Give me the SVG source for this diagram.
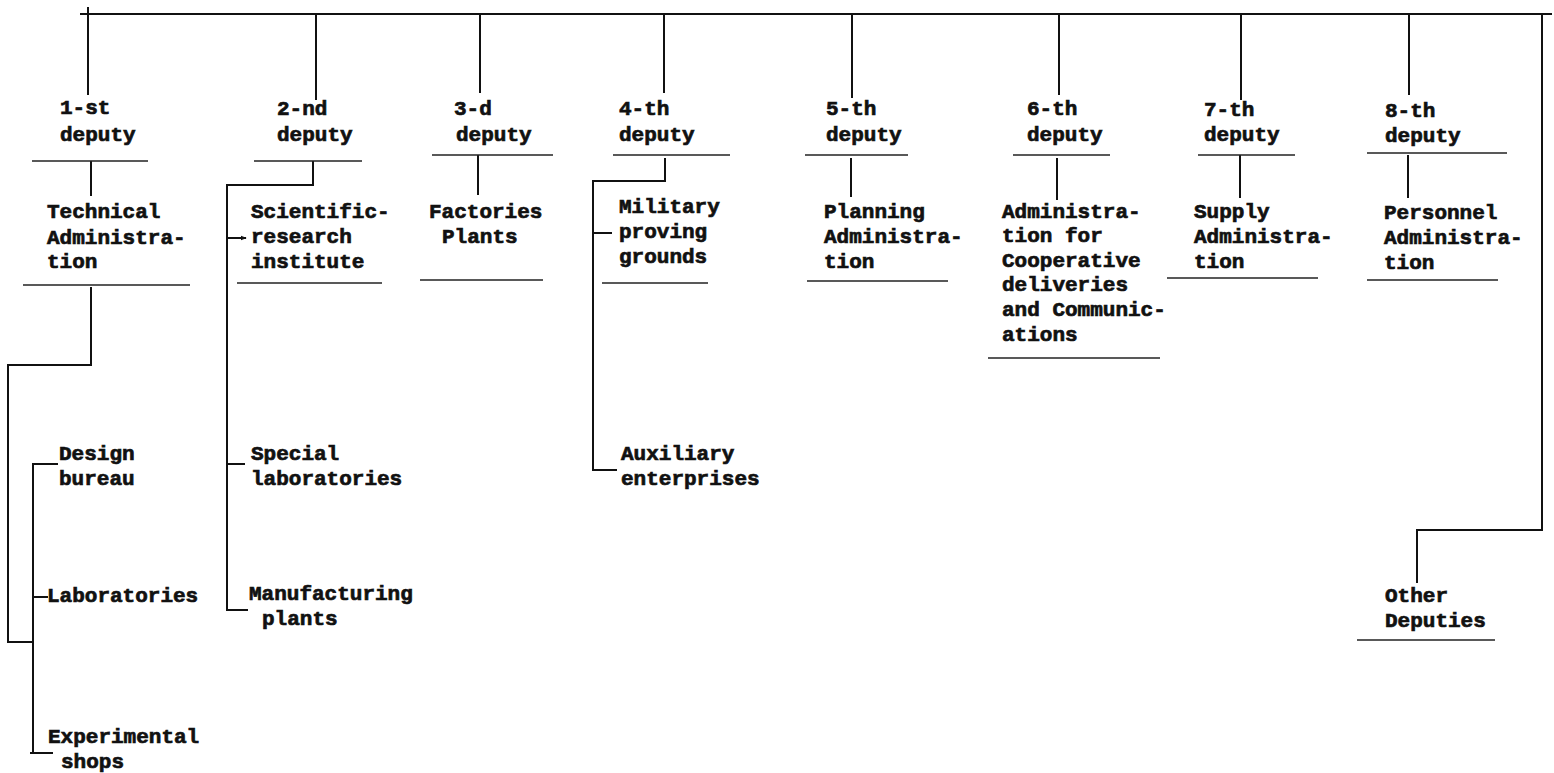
<svg xmlns="http://www.w3.org/2000/svg" width="1554" height="773" viewBox="0 0 1554 773">
<defs>
<style>
text{font-family:"Liberation Mono","DejaVu Sans Mono",monospace;font-weight:bold;font-size:21px;fill:#111;stroke:#111;stroke-width:0.7}
.c{stroke:#111;stroke-width:2;fill:none}
.u{stroke:#222;stroke-width:1.6;fill:none}
</style>
<marker id="ah" viewBox="0 0 8 8" refX="7" refY="4" markerWidth="6" markerHeight="6" orient="auto" markerUnits="userSpaceOnUse"><path d="M0,1 L8,4 L0,7 Z" fill="#111"/></marker>
</defs>
<rect width="1554" height="773" fill="#fff"/>
<g id="connectors" class="c">
<path d="M80,14 H1552"/>
<path d="M88,7 V95"/>
<path d="M316,14 V100"/>
<path d="M480,14 V93"/>
<path d="M664,14 V93"/>
<path d="M852,14 V98"/>
<path d="M1059,14 V95"/>
<path d="M1241,14 V100"/>
<path d="M1409,14 V95"/>
<path d="M1542,14 V530 H1417 V583"/>
<path d="M91,161 V196"/>
<path d="M91,287 V365 H8 V642 H33"/>
<path d="M33,463 V753"/>
<path d="M33,464 H58"/>
<path d="M33,597 H48"/>
<path d="M30,753 H53"/>
<path d="M313,161 V185 H227 V610 H248"/>
<path d="M227,238 H246" marker-end="url(#ah)"/>
<path d="M228,464 H245"/>
<path d="M478,155 V195"/>
<path d="M665,158 V181 H593 V470 H617"/>
<path d="M593,233 H612"/>
<path d="M851,158 V197"/>
<path d="M1057,158 V200"/>
<path d="M1240,155 V198"/>
<path d="M1408,155 V198"/>
</g>
<g id="d1"><text x="60" y="114">1-st</text><text x="60" y="141">deputy</text><path class="u" d="M32,161 H148"/></g>
<g id="d2"><text x="277" y="115">2-nd</text><text x="277" y="141">deputy</text><path class="u" d="M254,161 H362"/></g>
<g id="d3"><text x="454" y="115">3-d</text><text x="456" y="141">deputy</text><path class="u" d="M432,155 H553"/></g>
<g id="d4"><text x="619" y="115">4-th</text><text x="619" y="141">deputy</text><path class="u" d="M613,155 H730"/></g>
<g id="d5"><text x="826" y="115">5-th</text><text x="826" y="141">deputy</text><path class="u" d="M805,155 H908"/></g>
<g id="d6"><text x="1027" y="115">6-th</text><text x="1027" y="141">deputy</text><path class="u" d="M1013,155 H1110"/></g>
<g id="d7"><text x="1204" y="116">7-th</text><text x="1204" y="141">deputy</text><path class="u" d="M1198,155 H1295"/></g>
<g id="d8"><text x="1385" y="117">8-th</text><text x="1385" y="142">deputy</text><path class="u" d="M1367,153 H1507"/></g>
<g id="tech"><text x="47" y="218">Technical</text><text x="47" y="244">Administra-</text><text x="47" y="268">tion</text><path class="u" d="M23,285 H190"/></g>
<g id="sci"><text x="251" y="218">Scientific-</text><text x="251" y="243">research</text><text x="251" y="268">institute</text><path class="u" d="M237,283 H382"/></g>
<g id="fact"><text x="429" y="218">Factories</text><text x="442" y="243">Plants</text><path class="u" d="M420,280 H543"/></g>
<g id="mil"><text x="619" y="213">Military</text><text x="619" y="238">proving</text><text x="619" y="263">grounds</text><path class="u" d="M602,283 H708"/></g>
<g id="plan"><text x="824" y="218">Planning</text><text x="824" y="243">Administra-</text><text x="824" y="268">tion</text><path class="u" d="M807,281 H948"/></g>
<g id="coop"><text x="1002" y="218">Administra-</text><text x="1002" y="242">tion for</text><text x="1002" y="267">Cooperative</text><text x="1002" y="291">deliveries</text><text x="1002" y="316">and Communic-</text><text x="1002" y="341">ations</text><path class="u" d="M988,358 H1160"/></g>
<g id="supply"><text x="1194" y="218">Supply</text><text x="1194" y="243">Administra-</text><text x="1194" y="268">tion</text><path class="u" d="M1167,278 H1318"/></g>
<g id="pers"><text x="1384" y="219">Personnel</text><text x="1384" y="244">Administra-</text><text x="1384" y="269">tion</text><path class="u" d="M1367,280 H1498"/></g>
<g id="design"><text x="59" y="460">Design</text><text x="59" y="485">bureau</text></g>
<g id="labs"><text x="47" y="602">Laboratories</text></g>
<g id="exp"><text x="48" y="743">Experimental</text><text x="61" y="768">shops</text></g>
<g id="spec"><text x="251" y="460">Special</text><text x="251" y="485">laboratories</text></g>
<g id="manuf"><text x="249" y="600">Manufacturing</text><text x="262" y="625">plants</text></g>
<g id="aux"><text x="621" y="460">Auxiliary</text><text x="621" y="485">enterprises</text></g>
<g id="other"><text x="1385" y="602">Other</text><text x="1385" y="627">Deputies</text><path class="u" d="M1357,640 H1495"/></g>
</svg>
